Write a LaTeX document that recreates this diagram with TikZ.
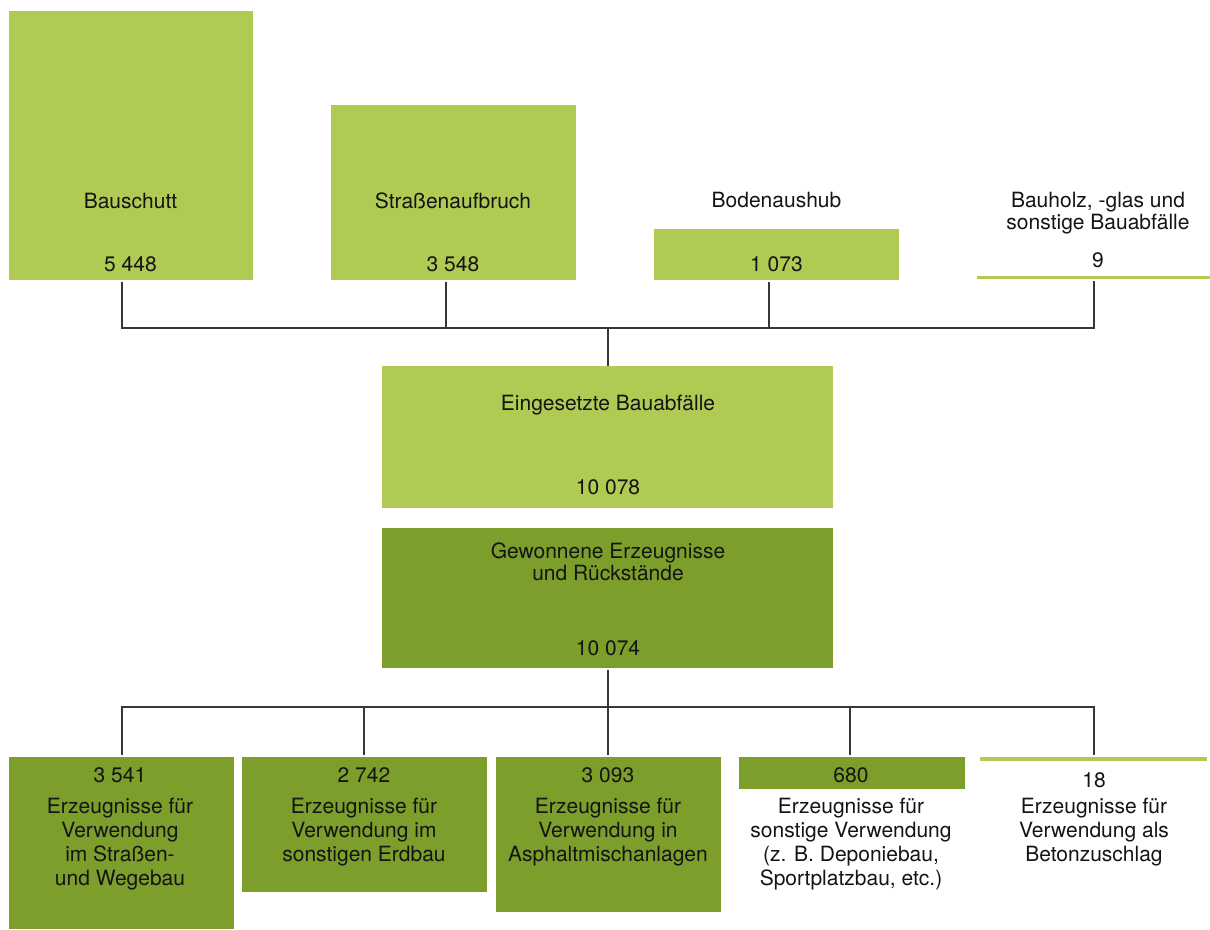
\documentclass[tikz,border=0pt]{standalone}
\usepackage{fontspec}
\setmainfont{TeX Gyre Heros}
\definecolor{lightg}{RGB}{175,203,84}
\definecolor{darkg}{RGB}{124,158,42}
\definecolor{linec}{RGB}{55,55,55}
\definecolor{txtc}{RGB}{20,20,20}
\begin{document}
\begin{tikzpicture}[x=1pt,y=-1pt,
  box/.style={draw=none, inner sep=0pt, outer sep=0pt, anchor=north west},
  lbox/.style={box, fill=lightg},
  dbox/.style={box, fill=darkg},
  txt/.style={inner sep=0pt, outer sep=0pt, anchor=base, align=center, text=txtc,
    font=\fontsize{21}{24.3}\selectfont},
  txttwo/.style={txt, font=\fontsize{21}{22.5}\selectfont},
  conn/.style={draw=linec, line width=1.3pt},
]
\useasboundingbox (0,0) rectangle (1210,929);

% top row boxes
\node[lbox, minimum width=244pt, minimum height=269pt] (bau) at (9,11) {};
\node[lbox, minimum width=245pt, minimum height=175pt] (sa) at (331,105) {};
\node[lbox, minimum width=245pt, minimum height=51pt] (bo) at (654,229) {};
\node[lbox, minimum width=233pt, minimum height=3pt] (bh) at (977,276) {};

\node[txt] (baut) at (130.5,208) {Bauschutt};
\node[txt] (baun) at (130.5,271) {5 448};
\node[txt] (sat) at (453,208) {Straßenaufbruch};
\node[txt] (san) at (453,271) {3 548};
\node[txt] (bot) at (776.5,207.5) {Bodenaushub};
\node[txt] (bon) at (776.5,271) {1 073};
\node[txttwo] (bht) at (1098,229.5) {Bauholz, -glas und\\sonstige Bauabfälle};
\node[txt] (bhn) at (1098,267) {9};

% middle boxes
\node[lbox, minimum width=451pt, minimum height=142pt] (ein) at (382,366) {};
\node[dbox, minimum width=451pt, minimum height=140pt] (gew) at (382,528) {};
\node[txt] (eint) at (608,410) {Eingesetzte Bauabfälle};
\node[txt] (einn) at (608,494) {10 078};
\node[txttwo] (gewt) at (608,580.5) {Gewonnene Erzeugnisse\\und Rückstände};
\node[txt] (gewn) at (608,655) {10 074};

% bottom boxes
\node[dbox, minimum width=225pt, minimum height=172pt] (e1) at (9,757) {};
\node[dbox, minimum width=245pt, minimum height=135pt] (e2) at (242,757) {};
\node[dbox, minimum width=225pt, minimum height=155pt] (e3) at (496,757) {};
\node[dbox, minimum width=226pt, minimum height=32pt] (e4) at (739,757) {};
\node[lbox, minimum width=227pt, minimum height=3.5pt] (e5) at (980,757) {};

\node[txt] (e1n) at (120,782) {3 541};
\node[txt] (e1t) at (120,885.9) {Erzeugnisse für\\Verwendung\\im Straßen-\\und Wegebau};
\node[txt] (e2n) at (364,782) {2 742};
\node[txt] (e2t) at (364,861.6) {Erzeugnisse für\\Verwendung im\\sonstigen Erdbau};
\node[txt] (e3n) at (608,782) {3 093};
\node[txt] (e3t) at (608,861.6) {Erzeugnisse für\\Verwendung in\\Asphaltmischanlagen};
\node[txt] (e4n) at (851,782) {680};
\node[txt] (e4t) at (851,885.9) {Erzeugnisse für\\sonstige Verwendung\\(z. B. Deponiebau,\\Sportplatzbau, etc.)};
\node[txt] (e5n) at (1094,787) {18};
\node[txt] (e5t) at (1094,861.6) {Erzeugnisse für\\Verwendung als\\Betonzuschlag};

% top connectors
\coordinate (t1) at (122,328);
\coordinate (t2) at (446,328);
\coordinate (t3) at (769,328);
\coordinate (t4) at (1094,328);
\coordinate (tj) at (608,328);
\draw[conn] ([yshift=-2pt]t1 |- bau.south) -- (t1) -- (t4) -- ([yshift=-2pt]t4 |- bh.south);
\draw[conn] ([yshift=-2pt]t2 |- sa.south) -- (t2);
\draw[conn] ([yshift=-2pt]t3 |- bo.south) -- (t3);
\draw[conn] (tj) -- (tj |- ein.north);

% bottom connectors
\coordinate (b1) at (122,707);
\coordinate (b2) at (364,707);
\coordinate (b3) at (608,707);
\coordinate (b4) at (850,707);
\coordinate (b5) at (1094,707);
\draw[conn] ([yshift=-2pt]b3 |- gew.south) -- (b3);
\draw[conn] ([yshift=2pt]b1 |- e1.north) -- (b1) -- (b5) -- ([yshift=2pt]b5 |- e5.north);
\draw[conn] (b2) -- ([yshift=2pt]b2 |- e2.north);
\draw[conn] (b3) -- ([yshift=2pt]b3 |- e3.north);
\draw[conn] (b4) -- ([yshift=2pt]b4 |- e4.north);
\end{tikzpicture}
\end{document}
